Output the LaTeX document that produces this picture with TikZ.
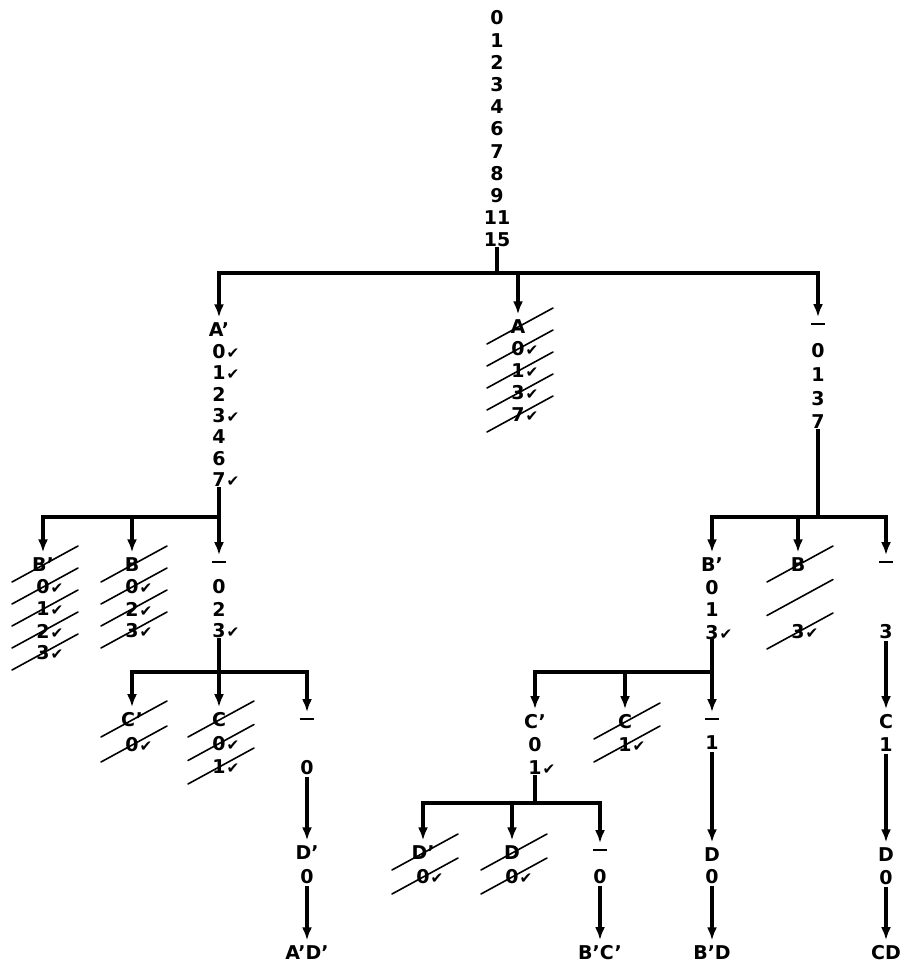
\documentclass[tikz,border=0pt]{standalone}
\usepackage{fontspec}
\setmainfont{DejaVu Sans}
\newfontfamily\ckfont[Scale=0.8]{DejaVu Sans}
\usetikzlibrary{arrows.meta,calc}
\newcommand{\ck}{\rlap{\kern1pt\ckfont ✔}}
\newcommand{\blank}{\rule[0.3em]{0.7em}{0.14em}}

\begin{document}
\begin{tikzpicture}[x=1pt,y=-1pt,
  itm/.style={font=\fontsize{19}{22}\selectfont\bfseries, inner sep=1.5pt},
  ln/.style={line width=3.2pt, line cap=rect},
  arr/.style={line width=3.2pt, -{Latex[length=13pt,width=10pt]}, shorten >=4pt},
  xo/.style={line width=1.6pt, line cap=round}]
\useasboundingbox (0,0) rectangle (904,968);
% start list
\foreach \t [count=\i] in {0,1,2,3,4,6,7,8,9,11,15}
  \node[itm] (r-\i) at (497,{18+(\i-1)*22.2}) {\t};
\coordinate (j1) at (497,273);
\draw[ln] (r-11) -- (j1);
% first split on A
\foreach \t [count=\i] in {A',0\ck,1\ck,2,3\ck,4,6,7\ck}
  \node[itm] (ap-\i) at (219,{330+(\i-1)*21.4}) {\t};
\foreach \t [count=\i] in {A,0\ck,1\ck,3\ck,7\ck}
  \node[itm] (a-\i) at (518,{327+(\i-1)*22}) {\t};
\foreach \t [count=\i] in {\blank,0,1,3,7}
  \node[itm] (n1-\i) at (818,{327+(\i-1)*23.75}) {\t};
\draw[ln] (ap-1 |- j1) -- (n1-1 |- j1);
\foreach \c in {ap,a,n1} \draw[arr] (\c-1 |- j1) -- (\c-1);
\foreach \i in {1,...,5} \draw[xo] ([shift={(-31,17)}]a-\i.center) -- ++(66,-36);
% B under A'
\coordinate (j2) at (219,517);
\draw[ln] (ap-8) -- (j2);
\foreach \t [count=\i] in {B',0\ck,1\ck,2\ck,3\ck}
  \node[itm] (bpl-\i) at (43,{565+(\i-1)*22}) {\t};
\foreach \t [count=\i] in {B,0\ck,2\ck,3\ck}
  \node[itm] (bl-\i) at (132,{565+(\i-1)*22}) {\t};
\foreach \t [count=\i] in {\blank,0,2,3\ck}
  \node[itm] (n2-\i) at (219,{565+(\i-1)*22}) {\t};
\draw[ln] (bpl-1 |- j2) -- (n2-1 |- j2);
\foreach \c in {bpl,bl,n2} \draw[arr] (\c-1 |- j2) -- (\c-1);
\foreach \i in {1,...,5} \draw[xo] ([shift={(-31,17)}]bpl-\i.center) -- ++(66,-36);
\foreach \i in {1,...,4} \draw[xo] ([shift={(-31,17)}]bl-\i.center) -- ++(66,-36);
% C under A'
\coordinate (j6) at (219,672);
\draw[ln] (n2-4) -- (j6);
\foreach \t [count=\i] in {C',0\ck}
  \node[itm] (cpl-\i) at (132,{720+(\i-1)*25}) {\t};
\foreach \t [count=\i] in {C,0\ck,1\ck}
  \node[itm] (cl-\i) at (219,{720+(\i-1)*23.5}) {\t};
\foreach \t [count=\i] in {\blank,0}
  \node[itm] (n3-\i) at (307,{722+(\i-1)*46}) {\t};
\draw[ln] (cpl-1 |- j6) -- (n3-1 |- j6);
\foreach \c in {cpl,cl,n3} \draw[arr] (\c-1 |- j6) -- (\c-1);
\foreach \i in {1,2} \draw[xo] ([shift={(-31,17)}]cpl-\i.center) -- ++(66,-36);
\foreach \i in {1,2,3} \draw[xo] ([shift={(-31,17)}]cl-\i.center) -- ++(66,-36);
\foreach \t [count=\i] in {D',0}
  \node[itm] (dp1-\i) at (307,{853+(\i-1)*24}) {\t};
\node[itm] (apdp) at (307,953) {A'D'};
\draw[arr] (n3-2) -- (dp1-1);
\draw[arr] (dp1-2) -- (apdp);
% B under the blank
\coordinate (j3) at (818,517);
\draw[ln] (n1-5) -- (j3);
\foreach \t [count=\i] in {B',0,1,3\ck}
  \node[itm] (bpr-\i) at (712,{565+(\i-1)*22.4}) {\t};
\foreach \t [count=\i] in {B,3\ck}
  \node[itm] (br-\i) at (798,{565+(\i-1)*67}) {\t};
\foreach \t [count=\i] in {\blank,3}
  \node[itm] (n4-\i) at (886,{565+(\i-1)*67}) {\t};
\draw[ln] (bpr-1 |- j3) -- (n4-1 |- j3);
\foreach \c in {bpr,br,n4} \draw[arr] (\c-1 |- j3) -- (\c-1);
\foreach \i in {1,2} \draw[xo] ([shift={(-31,17)}]br-\i.center) -- ++(66,-36);
\draw[xo] ($(br-1)!0.5!(br-2)+(-31,17)$) -- ++(66,-36);
% C under B'
\coordinate (j4) at (712,672);
\draw[ln] (bpr-4) -- (j4);
\foreach \t [count=\i] in {C',0,1\ck}
  \node[itm] (cpr-\i) at (535,{722+(\i-1)*23}) {\t};
\foreach \t [count=\i] in {C,1\ck}
  \node[itm] (cr-\i) at (625,{722+(\i-1)*23}) {\t};
\foreach \t [count=\i] in {\blank,1}
  \node[itm] (n5-\i) at (712,{722+(\i-1)*21}) {\t};
\draw[ln] (cpr-1 |- j4) -- (n5-1 |- j4);
\foreach \c in {cpr,cr,n5} \draw[arr] (\c-1 |- j4) -- (\c-1);
\foreach \i in {1,2} \draw[xo] ([shift={(-31,17)}]cr-\i.center) -- ++(66,-36);
\foreach \t [count=\i] in {D,0}
  \node[itm] (d5-\i) at (712,{855+(\i-1)*22}) {\t};
\node[itm] (bpd) at (712,953) {B'D};
\draw[arr] (n5-2) -- (d5-1);
\draw[arr] (d5-2) -- (bpd);
% D under C'
\coordinate (j5) at (535,803);
\draw[ln] (cpr-3) -- (j5);
\foreach \t [count=\i] in {D',0\ck}
  \node[itm] (dpx-\i) at (423,{853+(\i-1)*24}) {\t};
\foreach \t [count=\i] in {D,0\ck}
  \node[itm] (dx-\i) at (512,{853+(\i-1)*24}) {\t};
\foreach \t [count=\i] in {\blank,0}
  \node[itm] (n6-\i) at (600,{853+(\i-1)*24}) {\t};
\draw[ln] (dpx-1 |- j5) -- (n6-1 |- j5);
\foreach \c in {dpx,dx,n6} \draw[arr] (\c-1 |- j5) -- (\c-1);
\foreach \i in {1,2} \draw[xo] ([shift={(-31,17)}]dpx-\i.center) -- ++(66,-36);
\foreach \i in {1,2} \draw[xo] ([shift={(-31,17)}]dx-\i.center) -- ++(66,-36);
\node[itm] (bpcp) at (600,953) {B'C'};
\draw[arr] (n6-2) -- (bpcp);
% C and D under the blank
\foreach \t [count=\i] in {C,1}
  \node[itm] (c4-\i) at (886,{722+(\i-1)*23}) {\t};
\foreach \t [count=\i] in {D,0}
  \node[itm] (d4-\i) at (886,{855+(\i-1)*23}) {\t};
\node[itm] (cd) at (886,953) {CD};
\draw[arr] (n4-2) -- (c4-1);
\draw[arr] (c4-2) -- (d4-1);
\draw[arr] (d4-2) -- (cd);
\end{tikzpicture}
\end{document}
